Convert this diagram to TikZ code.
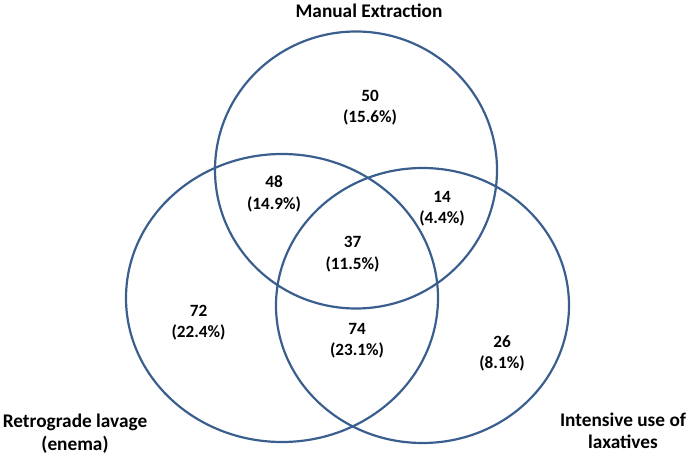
\documentclass[tikz,border=0pt]{standalone}
\usepackage{fontspec}
\setmainfont{Carlito}
\definecolor{vblue}{HTML}{3A5F8E}
\begin{document}
\begin{tikzpicture}[x=1pt,y=-1pt,
  ring/.style={draw=vblue,line width=2.2pt},
  lab/.style={font=\fontsize{19.3}{22.5}\selectfont\bfseries, align=center, inner sep=0pt},
  val/.style={font=\fontsize{17.2}{21.5}\selectfont\bfseries, align=center, inner sep=0pt}]
\useasboundingbox (0,0) rectangle (689,457);
\draw[ring] (356,170) ellipse [x radius=141pt, y radius=138.5pt];
\draw[ring] (282,298) ellipse [x radius=156pt, y radius=144pt];
\draw[ring] (422.5,305.5) ellipse [x radius=146.5pt, y radius=137.5pt];
\node[lab] (me) at (369,11) {Manual Extraction};
\node[lab] (rl) at (75,433.5) {Retrograde lavage\\(enema)};
\node[lab] (iu) at (623,431) {Intensive use of\\laxatives};
\node[val] (v50) at (370,107.5) {50\\(15.6\%)};
\node[val] (v48) at (274,194) {48\\(14.9\%)};
\node[val] (v14) at (442,208.5) {14\\(4.4\%)};
\node[val] (v37) at (352.5,254) {37\\(11.5\%)};
\node[val] (v72) at (198.5,322.5) {72\\(22.4\%)};
\node[val] (v74) at (357,340.5) {74\\(23.1\%)};
\node[val] (v26) at (502,353.5) {26\\(8.1\%)};
\end{tikzpicture}
\end{document}
